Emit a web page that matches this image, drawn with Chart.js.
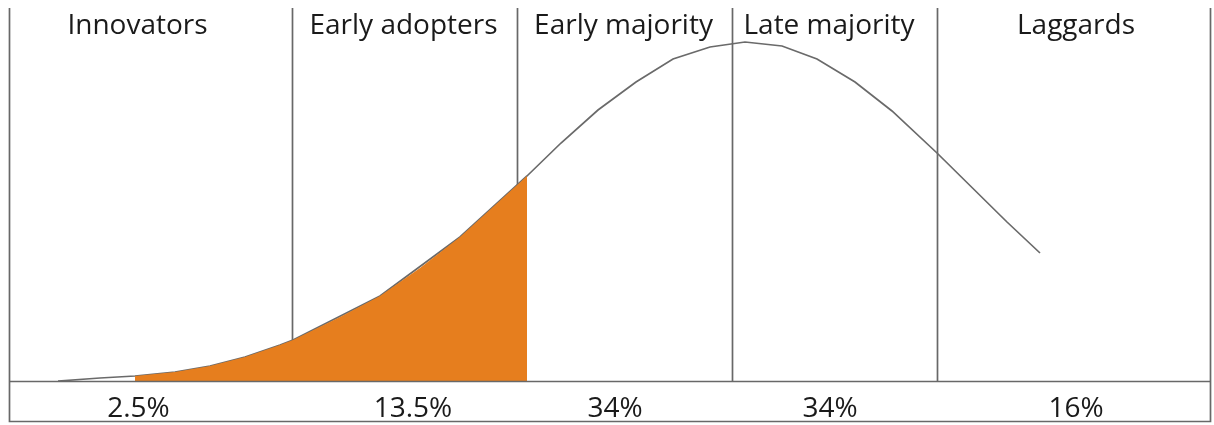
<!DOCTYPE html>
<html>
<head>
<meta charset="utf-8">
<script src="https://cdn.jsdelivr.net/npm/chart.js@4.4.1/dist/chart.umd.min.js"></script>
<style>
  html, body { margin: 0; padding: 0; background: #ffffff; }
  #wrap { width: 1214px; height: 425px; }
</style>
</head>
<body>
<div id="wrap"><canvas id="c" width="1214" height="425"></canvas></div>
<script>
// ---- data (x: position along adoption axis, y: height of curve above baseline) ----
const curveX = [48, 90, 125, 165, 200, 235, 270, 283, 370, 450, 517, 551, 588, 626, 663, 700, 735, 772, 807, 845, 882, 927, 997, 1030];
const curveY = [0, 3, 5, 9, 15, 24, 36, 41, 85, 144, 205, 238, 271, 299, 322, 334, 339, 335, 322, 299, 270, 228, 159, 128];

// shaded portion (innovators + early adopters reached so far)
const shadeX = [125, 165, 200, 235, 270, 283, 330, 370, 410, 450, 517];
const shadeY = [5, 9, 15, 24, 36, 41, 64, 85, 113, 144, 205];

// segment boundaries between adopter groups
const dividers = [282, 507, 722, 927];

const groupNames = ["Innovators", "Early adopters", "Early majority", "Late majority", "Laggards"];
const groupNameAnchors = [127.5, 393.5, 613.5, 819, 1066];

const groupShares = ["2.5%", "13.5%", "34%", "34%", "16%"];
const groupShareAnchors = [128.5, 403, 605, 820, 1066];

const X_MIN = 0, X_MAX = 1200, Y_MIN = 0, Y_MAX = 373;

const curveData = curveX.map((x, i) => ({ x: x, y: curveY[i] }));
const shadeData = shadeX.map((x, i) => ({ x: x, y: shadeY[i] }));

const LINE_COLOR = '#686868';
const TEXT_COLOR = '#1a1a1a';
const FONT = '28px "Open Sans", "Noto Sans", sans-serif';

const framePlugin = {
  id: 'frame',
  beforeDatasetsDraw(chart) {
    const { ctx, chartArea, scales } = chart;
    ctx.save();
    ctx.strokeStyle = LINE_COLOR;
    ctx.lineWidth = 1.7;
    dividers.forEach(v => {
      const px = Math.round(scales.x.getPixelForValue(v)) + 0.5;
      ctx.beginPath();
      ctx.moveTo(px, chartArea.top);
      ctx.lineTo(px, chartArea.bottom);
      ctx.stroke();
    });
    ctx.restore();
  },
  afterDatasetsDraw(chart) {
    const { ctx, chartArea, scales } = chart;
    const xl = Math.round(scales.x.getPixelForValue(X_MIN)) - 0.5;
    const xr = Math.round(scales.x.getPixelForValue(X_MAX)) + 0.5;
    const yb = Math.round(scales.y.getPixelForValue(0)) + 0.5;
    const yBottom = 421.5;
    ctx.save();
    ctx.strokeStyle = LINE_COLOR;
    ctx.lineWidth = 1.7;
    // baseline
    ctx.beginPath();
    ctx.moveTo(xl, yb); ctx.lineTo(xr, yb);
    ctx.stroke();
    // outer frame (left, bottom, right)
    ctx.beginPath();
    ctx.moveTo(xl, chartArea.top);
    ctx.lineTo(xl, yBottom);
    ctx.lineTo(xr, yBottom);
    ctx.lineTo(xr, chartArea.top);
    ctx.stroke();

    // labels
    ctx.fillStyle = TEXT_COLOR;
    ctx.font = FONT;
    ctx.textAlign = 'center';
    ctx.textBaseline = 'alphabetic';
    groupNames.forEach((t, i) => {
      ctx.fillText(t, scales.x.getPixelForValue(groupNameAnchors[i]), 34);
    });
    groupShares.forEach((t, i) => {
      ctx.fillText(t, scales.x.getPixelForValue(groupShareAnchors[i]), 417);
    });
    ctx.restore();
  }
};

new Chart(document.getElementById('c'), {
  type: 'line',
  data: {
    datasets: [
      {
        label: 'Adoption curve',
        data: curveData,
        borderColor: '#6a6a6a',
        borderWidth: 1.7,
        pointRadius: 0,
        tension: 0,
        fill: false,
        order: 2
      },
      {
        label: 'Reached',
        data: shadeData,
        borderColor: 'rgba(0,0,0,0)',
        borderWidth: 0,
        backgroundColor: '#E67E1E',
        pointRadius: 0,
        tension: 0,
        fill: 'origin',
        order: 1
      }
    ]
  },
  options: {
    responsive: false,
    devicePixelRatio: 1,
    animation: false,
    layout: { padding: { left: 10, right: 4, top: 8, bottom: 44 } },
    plugins: { legend: { display: false }, tooltip: { enabled: false } },
    scales: {
      x: { type: 'linear', min: X_MIN, max: X_MAX, display: false },
      y: { type: 'linear', min: Y_MIN, max: Y_MAX, display: false }
    }
  },
  plugins: [framePlugin]
});
</script>
</body>
</html>
